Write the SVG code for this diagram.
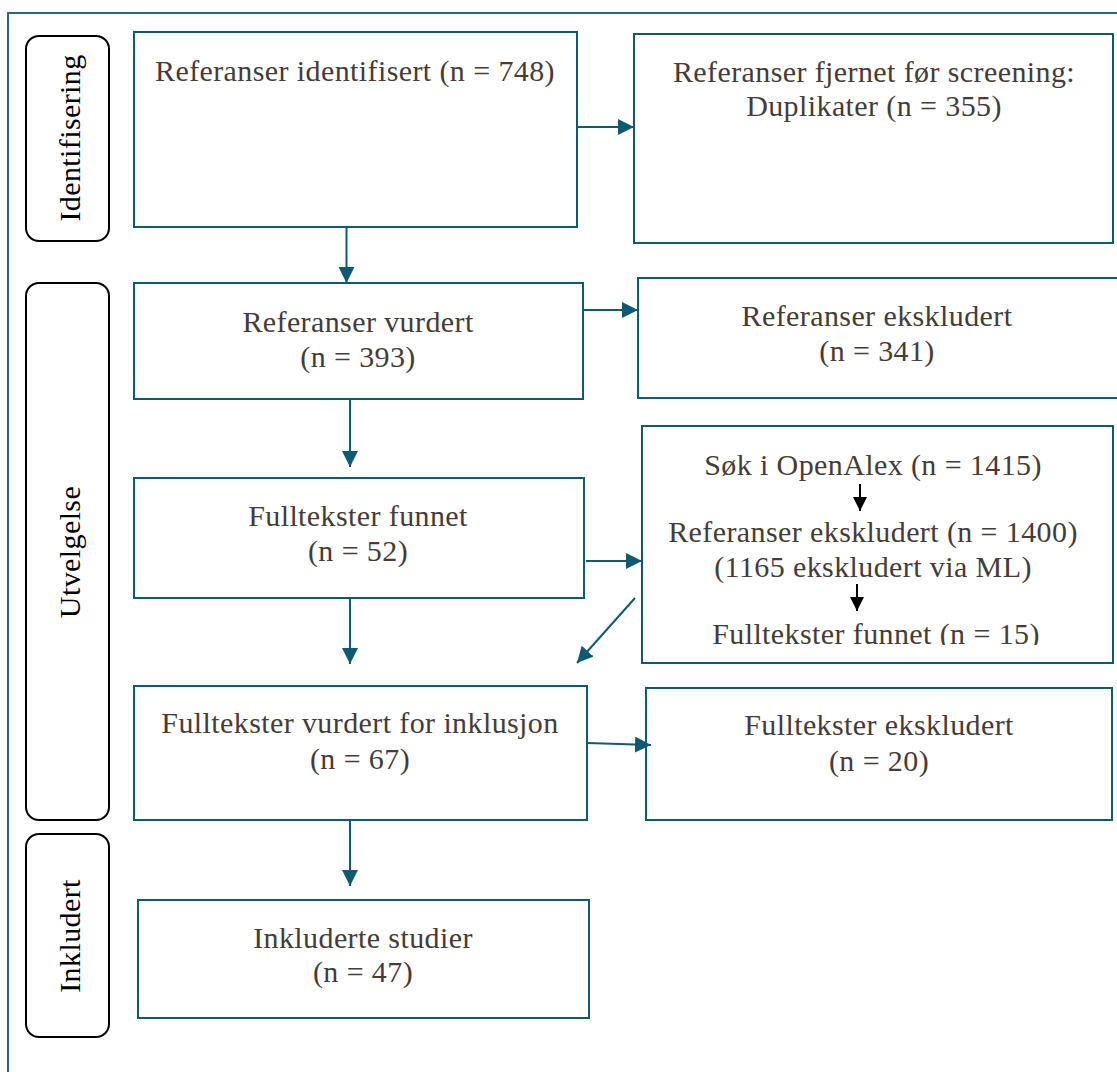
<svg xmlns="http://www.w3.org/2000/svg" width="1117" height="1072" viewBox="0 0 1117 1072">
<defs>
<style>
.box{fill:#fff;stroke:#0e5a73;stroke-width:2}
.lbl{fill:#fff;stroke:#000;stroke-width:2}
.t{font-family:"Liberation Serif","Times New Roman",serif;font-size:30px;letter-spacing:0.4px;fill:#463c37;text-anchor:middle}
.lt{font-family:"Liberation Serif","Times New Roman",serif;font-size:30px;letter-spacing:0.4px;fill:#000;text-anchor:middle}
.c{fill:none;stroke:#0e5a73;stroke-width:2}
.k{fill:none;stroke:#000;stroke-width:2}
</style>
<marker id="ah" markerUnits="userSpaceOnUse" markerWidth="16" markerHeight="16" viewBox="0 0 14 14" refX="14" refY="7" orient="auto">
<path d="M0,0 L14,7 L0,14 Z" fill="#0e5a73"/>
</marker>
<marker id="bh" markerUnits="userSpaceOnUse" markerWidth="14" markerHeight="14" viewBox="0 0 14 14" refX="14" refY="7" orient="auto">
<path d="M0,0 L14,7 L0,14 Z" fill="#000"/>
</marker>
<clipPath id="clip6"><rect x="642" y="426" width="472" height="219"/></clipPath>
</defs>
<rect x="0" y="0" width="1117" height="1072" fill="#fff"/>
<rect id="frame" x="8" y="13" width="1130" height="1080" fill="none" stroke="#0e5a73" stroke-width="1.8"/>

<g id="label-identifisering">
<rect class="lbl" x="26" y="36" width="83" height="205" rx="13"/>
<text class="lt" transform="translate(80,138) rotate(-90)">Identifisering</text>
</g>
<g id="label-utvelgelse">
<rect class="lbl" x="26" y="283" width="83" height="537" rx="13"/>
<text class="lt" transform="translate(80,552) rotate(-90)">Utvelgelse</text>
</g>
<g id="label-inkludert">
<rect class="lbl" x="26" y="834" width="83" height="203" rx="13"/>
<text class="lt" transform="translate(80,936) rotate(-90)">Inkludert</text>
</g>

<g id="n1">
<rect class="box" x="134" y="32" width="443" height="195"/>
<text class="t" x="355" y="81">Referanser identifisert (n = 748)</text>
</g>
<g id="n2">
<rect class="box" x="634" y="34" width="479" height="209"/>
<text class="t" x="874" y="82">Referanser fjernet før screening:</text>
<text class="t" x="874" y="116">Duplikater (n = 355)</text>
</g>
<g id="n3">
<rect class="box" x="134" y="283" width="449" height="116"/>
<text class="t" x="358" y="332">Referanser vurdert</text>
<text class="t" x="358" y="367">(n = 393)</text>
</g>
<g id="n4">
<rect class="box" x="638" y="278" width="480" height="120"/>
<text class="t" x="877" y="326">Referanser ekskludert</text>
<text class="t" x="877" y="361">(n = 341)</text>
</g>
<g id="n5">
<rect class="box" x="134" y="478" width="450" height="120"/>
<text class="t" x="358" y="526">Fulltekster funnet</text>
<text class="t" x="358" y="561">(n = 52)</text>
</g>
<g id="n6">
<rect class="box" x="642" y="426" width="471" height="237"/>
<text class="t" x="873" y="475">Søk i OpenAlex (n = 1415)</text>
<text class="t" x="873" y="542">Referanser ekskludert (n = 1400)</text>
<text class="t" x="873" y="577">(1165 ekskludert via ML)</text>
<text class="t" x="876" y="644" clip-path="url(#clip6)">Fulltekster funnet (n = 15)</text>
<line class="k" x1="860" y1="484" x2="860" y2="511" marker-end="url(#bh)"/>
<line class="k" x1="857" y1="584" x2="857" y2="611" marker-end="url(#bh)"/>
</g>
<g id="n7">
<rect class="box" x="134" y="686" width="453" height="134"/>
<text class="t" x="360" y="733">Fulltekster vurdert for inklusjon</text>
<text class="t" x="360" y="769">(n = 67)</text>
</g>
<g id="n8">
<rect class="box" x="646" y="688" width="466" height="132"/>
<text class="t" x="879" y="735">Fulltekster ekskludert</text>
<text class="t" x="879" y="771">(n = 20)</text>
</g>
<g id="n9">
<rect class="box" x="138" y="900" width="451" height="118"/>
<text class="t" x="363" y="948">Inkluderte studier</text>
<text class="t" x="363" y="982">(n = 47)</text>
</g>

<g id="connectors">
<line class="c" x1="577" y1="127" x2="634" y2="127" marker-end="url(#ah)"/>
<line class="c" x1="346.5" y1="227" x2="346.5" y2="283" marker-end="url(#ah)"/>
<line class="c" x1="583" y1="310" x2="638" y2="310" marker-end="url(#ah)"/>
<line class="c" x1="350" y1="399" x2="350" y2="467" marker-end="url(#ah)"/>
<line class="c" x1="586" y1="561" x2="642" y2="561" marker-end="url(#ah)"/>
<line class="c" x1="350" y1="598" x2="350" y2="664" marker-end="url(#ah)"/>
<line class="c" x1="635" y1="598" x2="577" y2="663" marker-end="url(#ah)"/>
<line class="c" x1="587" y1="743" x2="651" y2="745" marker-end="url(#ah)"/>
<line class="c" x1="350" y1="820" x2="350" y2="886" marker-end="url(#ah)"/>
</g>
</svg>
